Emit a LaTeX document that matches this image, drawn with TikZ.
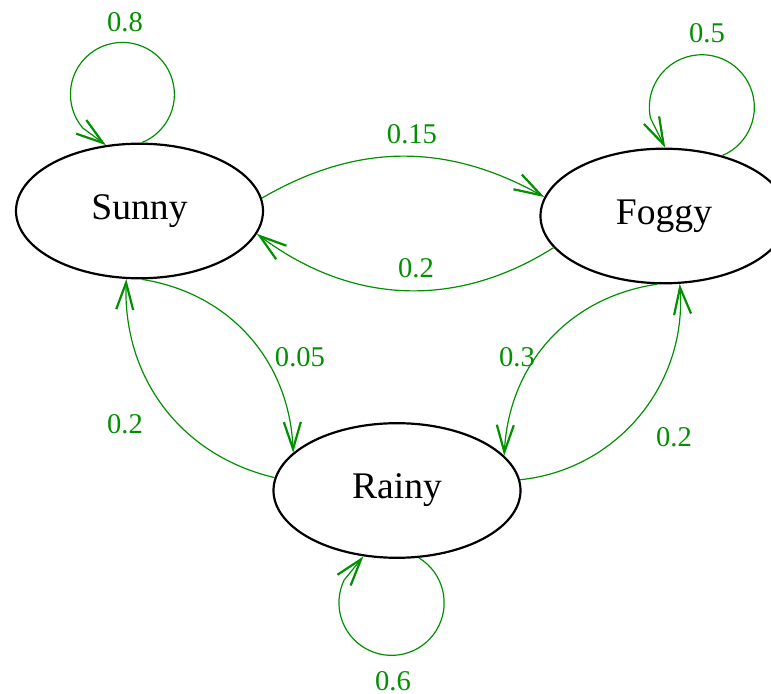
\documentclass[tikz,border=0pt]{standalone}
\usepackage{fontspec}
\setmainfont{Liberation Serif}
\usepackage{tikz}
\usetikzlibrary{arrows.meta, bending, shapes.geometric}
\definecolor{probgreen}{RGB}{0,144,0}

\begin{document}
\begin{tikzpicture}[x=0.5pt, y=0.5pt,
  state/.style={draw, ellipse, line width=1.1pt, minimum width=123.5pt, minimum height=67.3pt,
    inner sep=0pt, font=\fontsize{18.8}{22}\selectfont},
  trans/.style={probgreen, line width=0.6pt,
    -{Straight Barb[length=13.5pt, width=8.5pt, line width=1.1pt, flex]}},
  prob/.style={probgreen, font=\fontsize{14.3}{17}\selectfont}]
  \useasboundingbox (0,0) rectangle (771,-694);

  % States
  \node[state] (sunny) at (139.5,-211) {Sunny};
  \node[state] (foggy) at (664,-216) {Foggy};
  \node[state] (rainy) at (397,-490.5) {Rainy};

  % Self loops (circle, then a short straight run into the tip)
  \draw[trans] (sunny.88) arc[start angle=-68, end angle=220, radius=26pt] -- (sunny.117);
  \draw[trans] (foggy.46) arc[start angle=-67, end angle=192, radius=26.25pt] -- (foggy.89);
  \draw[trans] (rainy.288) arc[start angle=58.7, end angle=-205.7, radius=26.3pt] -- (rainy.243);

  % Transitions between states
  \draw[trans] (sunny.6) to[bend left=30] (foggy.171);
  \draw[trans] (foggy.196) to[bend left=35] (sunny.349);
  \draw[trans] (sunny.272) to[bend left=40] (rainy.160);
  \draw[trans] (rainy.174) to[bend left=40] (sunny.259);
  \draw[trans] (foggy.264) to[bend right=40] (rainy.18);
  \draw[trans] (rainy.5) to[bend right=45] (foggy.283);

  % Probabilities
  \node[prob] (p-ss) at (125,-22) {0.8};
  \node[prob] (p-ff) at (707,-33) {0.5};
  \node[prob] (p-rr) at (393,-681) {0.6};
  \node[prob] (p-sf) at (412,-134) {0.15};
  \node[prob] (p-fs) at (416,-268) {0.2};
  \node[prob] (p-sr) at (300,-357) {0.05};
  \node[prob] (p-rs) at (125,-424) {0.2};
  \node[prob] (p-fr) at (517,-357) {0.3};
  \node[prob] (p-rf) at (674,-437) {0.2};
\end{tikzpicture}
\end{document}
